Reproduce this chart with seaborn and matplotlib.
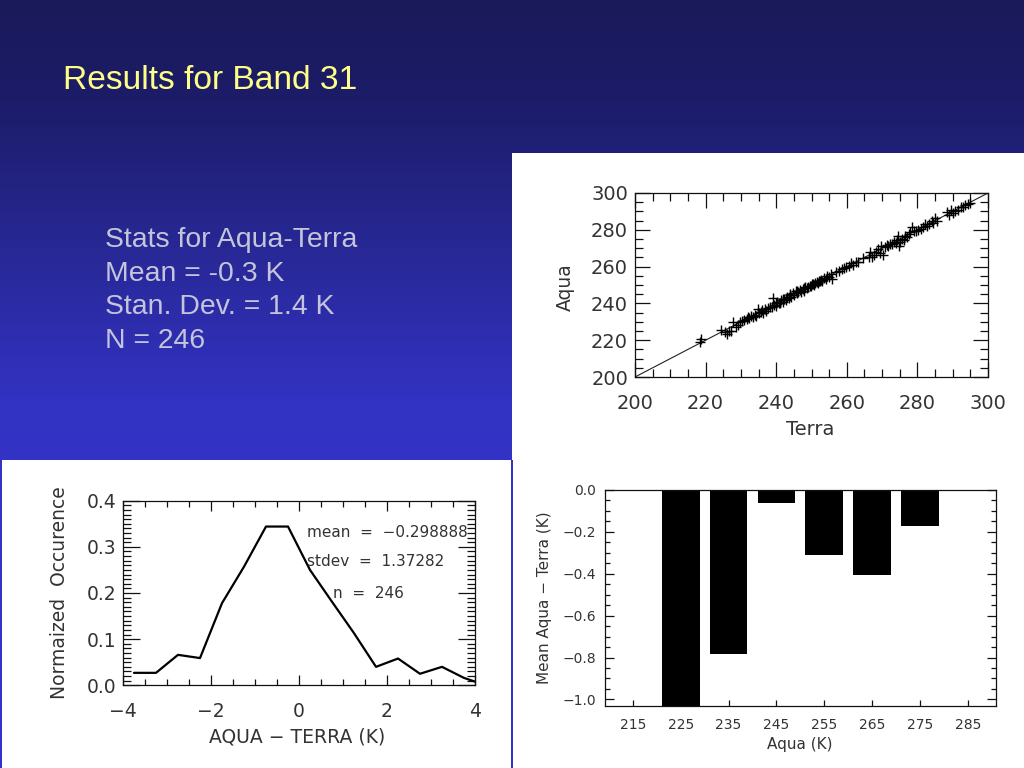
import numpy as np
import pandas as pd
import matplotlib
matplotlib.use("Agg")
import matplotlib.pyplot as plt
from matplotlib.patches import Rectangle
from matplotlib.ticker import MultipleLocator, FuncFormatter
import seaborn as sns

# ---------------- data ----------------
title_text = "Results for Band 31"
stats_lines = ["Stats for Aqua-Terra", "Mean = -0.3 K", "Stan. Dev. = 1.4 K", "N = 246"]

terra = [218.5, 218.6, 224.3, 225.6, 226.0, 226.5, 227.2, 227.9, 228.5, 229.3,
         229.8, 230.4, 231.0, 231.6, 232.2, 232.8, 233.3, 233.9, 234.4, 234.9,
         235.2, 235.8, 236.3, 236.8, 237.2, 237.7, 238.3, 238.8, 239.2, 239.5,
         239.9, 240.3, 240.7, 241.1, 241.5, 241.9, 242.3, 242.7, 243.1, 243.5,
         243.9, 244.3, 244.7, 245.1, 245.5, 245.9, 246.3, 246.7, 247.1, 247.5,
         247.9, 248.3, 248.7, 249.1, 249.5, 249.9, 250.3, 250.7, 251.1, 251.5,
         251.9, 252.3, 252.7, 253.1, 253.6, 254.0, 254.5, 255.0, 255.5, 255.9,
         257.0, 257.8, 258.5, 259.2, 259.8, 260.5, 261.2, 261.8, 262.5, 263.3,
         264.5, 266.2, 266.5, 267.0, 267.8, 268.4, 268.9, 269.3, 269.8, 270.2,
         270.8, 271.3, 271.8, 272.3, 272.8, 273.3, 273.8, 274.3, 274.6, 274.9,
         275.2, 275.7, 276.1, 276.6, 277.1, 277.6, 278.0, 278.5, 279.0, 279.7,
         280.3, 280.9, 281.5, 282.2, 282.8, 283.4, 284.0, 284.5, 284.9, 285.5,
         288.5, 288.9, 289.4, 290.0, 290.6, 291.5, 292.3, 293.0, 293.6, 294.2,
         294.8, 244.0, 246.0, 248.0, 250.0, 252.0, 242.0, 240.0, 236.0, 232.0]
aqua = [219.0, 220.8, 225.5, 224.2, 223.6, 224.8, 225.0, 229.8, 227.0, 228.4,
        229.9, 230.2, 231.2, 231.5, 231.8, 232.9, 232.6, 233.5, 233.1, 237.2,
        234.6, 235.4, 235.0, 236.9, 235.8, 237.6, 238.1, 237.9, 243.0, 239.3,
        238.8, 240.6, 240.1, 240.3, 241.9, 241.0, 242.5, 241.8, 243.6, 242.9,
        244.4, 243.5, 245.6, 244.6, 246.8, 245.4, 246.1, 247.5, 246.4, 247.8,
        247.0, 248.9, 248.1, 249.0, 249.6, 249.2, 250.4, 249.9, 251.0, 251.8,
        250.9, 252.2, 252.9, 252.4, 253.8, 253.3, 254.9, 254.4, 256.1, 253.2,
        256.8, 257.5, 258.6, 259.4, 259.9, 260.2, 261.8, 261.0, 262.3, 262.6,
        264.5, 265.3, 268.0, 265.4, 266.5, 268.1, 269.6, 267.5, 271.0, 266.4,
        270.4, 271.8, 271.2, 272.5, 272.1, 273.2, 272.6, 274.4, 276.8, 271.2,
        273.6, 275.2, 274.4, 276.9, 276.2, 277.8, 278.7, 281.5, 279.4, 279.5,
        280.0, 280.6, 281.3, 283.0, 282.1, 283.2, 284.8, 283.5, 286.2, 284.9,
        289.5, 288.2, 290.6, 289.1, 290.4, 291.0, 292.6, 292.4, 293.5, 294.0,
        294.7, 244.9, 246.8, 248.5, 250.6, 252.3, 242.6, 240.2, 236.4, 232.4]

hist_x = [-3.75, -3.25, -2.75, -2.25, -1.75, -1.25, -0.75, -0.25, 0.25, 0.75,
          1.25, 1.75, 2.25, 2.75, 3.25, 3.75, 4.25]
hist_y = [0.027, 0.027, 0.066, 0.059, 0.178, 0.257, 0.344, 0.344, 0.250, 0.181,
          0.113, 0.040, 0.058, 0.025, 0.040, 0.016, 0.000]
hist_notes = ["mean  =  \u22120.298888", "stdev  =  1.37282", "n  =  246"]

bar_centers = [225, 235, 245, 255, 265, 275]
bar_values = [-1.10, -0.782, -0.064, -0.312, -0.405, -0.173]
bar_ticks = [215, 225, 235, 245, 255, 265, 275, 285]

# ---------------- figure ----------------
sns.set_style("white")
plt.rcParams["font.family"] = ["DejaVu Sans"]
W, H = 1024, 768
fig = plt.figure(figsize=(W / 100, H / 100), dpi=100)

def fx(px):
    return px / W

def fy(py):
    return 1 - py / H

# background gradient (colour stops by pixel row)
bg = fig.add_axes([0, 0, 1, 1], zorder=-5)
rows = np.arange(H)
stop_y = [0, 100, 250, 400, 768]
stop_r = [26, 28, 40, 50, 52]
stop_b = [90, 105, 150, 195, 205]
r = np.interp(rows, stop_y, stop_r) / 255
b = np.interp(rows, stop_y, stop_b) / 255
grad = np.stack([r, r, b], axis=1)
bg.imshow(grad[:, None, :].repeat(2, axis=1), extent=[0, 1, 0, 1], aspect="auto",
          origin="upper", interpolation="bilinear")
bg.set_xlim(0, 1)
bg.set_ylim(0, 1)
bg.axis("off")

# white panels (px rectangles: x0, y0, x1, y1)
for (x0, y0, x1, y1) in [(512, 153, 1024, 460), (2, 460, 511, 768), (513, 460, 1024, 768)]:
    bg.add_patch(Rectangle((fx(x0), fy(y1)), fx(x1 - x0), (y1 - y0) / H,
                           transform=bg.transAxes, facecolor="white",
                           edgecolor="none", zorder=2))

fig.text(fx(63), fy(89), title_text, family="Liberation Sans", fontsize=24.1,
         color="#ffff88", va="baseline", ha="left")
for i, line in enumerate(stats_lines):
    fig.text(fx(105), fy(247 + i * 33.7), line, family="Liberation Sans",
             fontsize=20.4, color="#c4c4dc", va="baseline", ha="left")

txt = "#333333"
minus_fmt = FuncFormatter(lambda v, pos: ("%.1f" % (0.0 if abs(v) < 1e-9 else v)).replace("-", "\u2212"))

def style_axes(ax):
    for s in ax.spines.values():
        s.set_color("#111111")
        s.set_linewidth(0.9)
        s.set_visible(True)
    ax.set_facecolor("white")

# ---------- scatter ----------
ax1 = fig.add_axes([fx(635), fy(377), fx(988 - 635), (377 - 193) / H], zorder=3)
style_axes(ax1)
lims = (200, 300)
ax1.plot(lims, lims, color="#222222", lw=0.8, zorder=1)
sns.scatterplot(x=terra, y=aqua, marker="+", s=60, color="black", linewidth=1.0,
                ax=ax1, zorder=2, legend=False)
ax1.set_xlim(*lims)
ax1.set_ylim(*lims)
ax1.xaxis.set_major_locator(MultipleLocator(20))
ax1.xaxis.set_minor_locator(MultipleLocator(5))
ax1.yaxis.set_major_locator(MultipleLocator(20))
ax1.yaxis.set_minor_locator(MultipleLocator(5))
ax1.tick_params(which="both", direction="in", top=True, right=True, bottom=True,
                left=True, colors="#111111", labelcolor=txt, labelsize=14)
ax1.tick_params(which="major", length=11, width=0.9)
ax1.tick_params(which="minor", length=5.5, width=0.9)
ax1.tick_params(axis="x", pad=12)
ax1.tick_params(axis="y", pad=5)
ax1.set_xlabel("Terra", fontsize=14, color=txt, va="center")
ax1.set_ylabel("Aqua", fontsize=13.5, color=txt, va="center")
ax1.xaxis.set_label_coords(0.496, -0.288)
ax1.yaxis.set_label_coords(-0.198, 0.489)

# ---------- histogram ----------
ax2 = fig.add_axes([fx(123), fy(685.3), fx(475 - 123), (685.3 - 500.7) / H], zorder=3)
style_axes(ax2)
sns.lineplot(x=hist_x, y=hist_y, color="black", lw=1.6, ax=ax2)
ax2.set_xlim(-4, 4)
ax2.set_ylim(0, 0.4)
ax2.xaxis.set_major_locator(MultipleLocator(2))
ax2.xaxis.set_minor_locator(MultipleLocator(0.5))
ax2.yaxis.set_major_locator(MultipleLocator(0.1))
ax2.yaxis.set_minor_locator(MultipleLocator(0.01))
ax2.yaxis.set_major_formatter(minus_fmt)
ax2.tick_params(which="both", direction="in", top=True, right=True, bottom=True,
                left=True, colors="#111111", labelcolor=txt, labelsize=13.5, width=0.9)
ax2.tick_params(axis="y", which="major", length=12.5, pad=5)
ax2.tick_params(axis="y", which="minor", length=5.5)
ax2.tick_params(axis="x", which="major", length=7.5, pad=12)
ax2.tick_params(axis="x", which="minor", length=4.5)
ax2.set_xlabel("AQUA \u2212 TERRA (K)", fontsize=13.5, color=txt, va="center")
ax2.set_ylabel("Normaized  Occurence", fontsize=13.5, color=txt, va="center")
ax2.xaxis.set_label_coords(0.494, -0.28)
ax2.yaxis.set_label_coords(-0.179, 0.5)
for (xa, ya), note in zip([(0.523, 0.830), (0.523, 0.668), (0.597, 0.50)], hist_notes):
    ax2.text(xa, ya, note, transform=ax2.transAxes, fontsize=11, color=txt,
             ha="left", va="center")

# ---------- bar chart ----------
ax3 = fig.add_axes([fx(604.7), fy(705.7), fx(996 - 604.7), (705.7 - 490) / H], zorder=3)
style_axes(ax3)
sns.barplot(x=bar_centers, y=bar_values, native_scale=True, width=0.79,
            color="black", saturation=1, errorbar=None, linewidth=0, ax=ax3)
ax3.set_xlim(209.1, 290.9)
ax3.set_ylim(-1.03, 0.0)
ax3.set_xticks(bar_ticks)
ax3.set_xticklabels([str(v) for v in bar_ticks])
ax3.yaxis.set_major_locator(MultipleLocator(0.2))
ax3.yaxis.set_minor_locator(MultipleLocator(0.05))
ax3.yaxis.set_major_formatter(minus_fmt)
ax3.tick_params(which="both", direction="in", colors="#111111", labelcolor=txt,
                labelsize=10, width=0.9)
ax3.tick_params(axis="y", which="both", left=True, right=True)
ax3.tick_params(axis="y", which="major", length=6.5, pad=6)
ax3.tick_params(axis="y", which="minor", length=3.3)
ax3.tick_params(axis="x", which="major", bottom=True, top=False, length=4.3, pad=9)
ax3.tick_params(axis="x", which="minor", bottom=False, top=False)
ax3.set_xlabel("Aqua (K)", fontsize=11, color=txt, va="center")
ax3.set_ylabel("Mean Aqua \u2212 Terra (K)", fontsize=11, color=txt, va="center")
ax3.xaxis.set_label_coords(0.499, -0.182)
ax3.yaxis.set_label_coords(-0.153, 0.499)

fig.savefig("out.png", dpi=100)
